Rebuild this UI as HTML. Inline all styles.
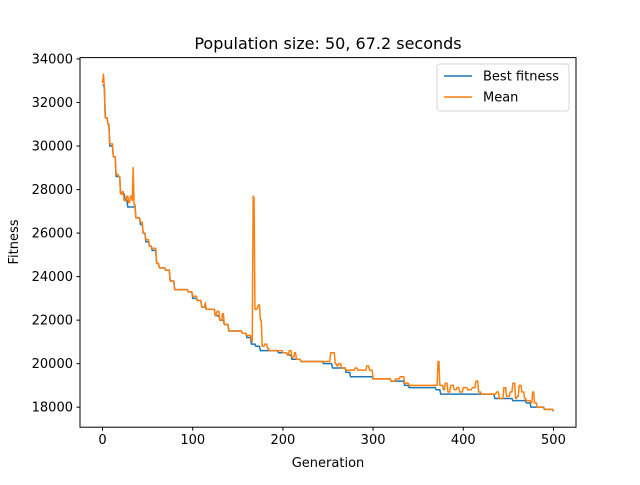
<!DOCTYPE html>
<html><head><meta charset="utf-8"><style>
body{margin:0;background:#fff;}
svg text{font-family:"DejaVu Sans","Liberation Sans",sans-serif;fill:#000;}
</style></head><body>
<svg id="chart" width="640" height="480" xmlns="http://www.w3.org/2000/svg">
<rect width="640" height="480" fill="#fff"/>
<text x="328" y="49" font-size="16" text-anchor="middle">Population size: 50, 67.2 seconds</text>
<g id="xticks"></g>
<g id="yticks"></g>
<g id="series"></g>
<rect x="80" y="57.6" width="496" height="369.6" fill="none" stroke="#000" stroke-width="1"/>
<text x="328" y="467" font-size="13" text-anchor="middle">Generation</text>
<text transform="translate(18,242) rotate(-90)" font-size="13" text-anchor="middle">Fitness</text>
<g>
<rect x="437" y="64" width="132" height="47" rx="3" fill="#fff" stroke="#ccc" opacity="0.8"/>
<g>
<line x1="444" y1="76" x2="472" y2="76" stroke="#1f77b4" stroke-width="1.5"/>
<text x="483" y="80.5" font-size="13">Best fitness</text></g>
<g>
<line x1="444" y1="97" x2="472" y2="97" stroke="#ff7f0e" stroke-width="1.5"/>
<text x="483" y="101.5" font-size="13">Mean</text></g>
</g>
</svg>
<script>
const xTicks=[0,100,200,300,400,500];
const yTicks=[18000,20000,22000,24000,26000,28000,30000,32000,34000];
const bestGen=[0,2,3,6,8,12,15,18,20,25,28,35,37,42,45,48,52,55,60,63,70,75,80,95,100,105,110,115,125,130,135,140,155,160,165,170,175,195,205,210,220,245,255,270,275,300,320,335,340,370,375,420,435,455,470,475,490,500];
const bestVal=[32800,32700,31300,31000,30000,29500,28600,28600,27800,27500,27200,27200,26700,26400,26000,25600,25400,25200,24600,24400,24300,23800,23400,23300,23000,22900,22600,22500,22200,22000,21800,21500,21400,21200,20900,20800,20600,20500,20400,20200,20100,20000,19800,19600,19400,19300,19200,19000,18900,18800,18600,18600,18400,18300,18200,18000,17900,17800];
const meanGen=[0,1,2,3,6,8,12,15,18,20,22,24,27,29,31,33,34,35,37,42,45,48,52,55,60,63,70,75,80,95,100,105,108,110,114,115,125,127,130,133,135,140,155,160,165,166,167,168,169,172,173,175,177,180,183,185,195,200,205,207,210,213,215,220,245,250,253,256,258,260,262,265,270,275,280,283,290,293,296,300,320,325,328,330,335,340,370,372,374,378,380,383,386,390,393,396,400,405,410,414,417,420,435,437,440,445,448,452,455,458,460,462,465,468,470,475,477,479,482,490,500];
const meanVal=[32900,33300,32700,31300,31000,30100,29500,28700,28600,27800,27900,27500,27700,27400,27700,27500,29000,27300,26700,26500,26000,25700,25400,25300,24600,24400,24300,23800,23400,23300,23100,22900,22900,22600,22800,22500,22200,22400,22000,22300,21800,21500,21400,21300,21100,21000,27700,27600,22500,22600,22700,22000,20800,20900,20700,20600,20600,20500,20400,20600,20300,20500,20200,20100,20100,20100,20500,20500,20000,19900,20000,19800,19700,19700,19800,19700,19700,19900,19700,19300,19200,19300,19300,19400,19100,19000,19000,20100,19000,18800,19100,18700,19000,18800,18900,18700,18900,18800,18900,19200,18700,18600,18600,18700,18400,18900,18500,18700,19100,18400,18500,19000,18700,18400,18300,18200,18700,18200,18000,17900,17800];
const NS="http://www.w3.org/2000/svg";
const X0=80,X1=576,Y0=57.6,Y1=427.2,xmin=-25,xmax=525,ymin=17080,ymax=34064;
const sx=v=>X0+(v-xmin)/(xmax-xmin)*(X1-X0);
const sy=v=>Y1-(v-ymin)/(ymax-ymin)*(Y1-Y0);
function mk(t,a){const e=document.createElementNS(NS,t);for(const k in a)e.setAttribute(k,a[k]);return e;}
const xg=document.getElementById('xticks'),yg=document.getElementById('yticks'),sg=document.getElementById('series');
xTicks.forEach(v=>{const x=sx(v);
 const l=mk('line',{x1:x,x2:x,y1:Y1,y2:Y1+3.5,stroke:'#000'});
 
 
 xg.appendChild(l);
 const t=mk('text',{x:x,y:Y1+17,'font-size':13,'text-anchor':'middle'});t.textContent=v;
 
 
 xg.appendChild(t);});
yTicks.forEach(v=>{const y=sy(v);
 const l=mk('line',{x1:X0-3.5,x2:X0,y1:y,y2:y,stroke:'#000'});
 
 
 yg.appendChild(l);
 const t=mk('text',{x:X0-7,y:y+4.5,'font-size':13,'text-anchor':'end'});t.textContent=v;
 
 
 yg.appendChild(t);});
function line(g,v,c,name){
 const pts=[];
 g.forEach((x,i)=>{
  if(i>0){const dx=Math.min(1,(x-g[i-1]));pts.push(sx(x-dx)+','+sy(v[i-1]));}
  pts.push(sx(x)+','+sy(v[i]));
 });
 const p=mk('polyline',{points:pts.join(' '),fill:'none',stroke:c,'stroke-width':1.5,'stroke-linejoin':'round'});
 
 
 sg.appendChild(p);}
line(bestGen,bestVal,'#1f77b4','best-fitness-line');
line(meanGen,meanVal,'#ff7f0e','mean-line');
</script>
</body></html>
